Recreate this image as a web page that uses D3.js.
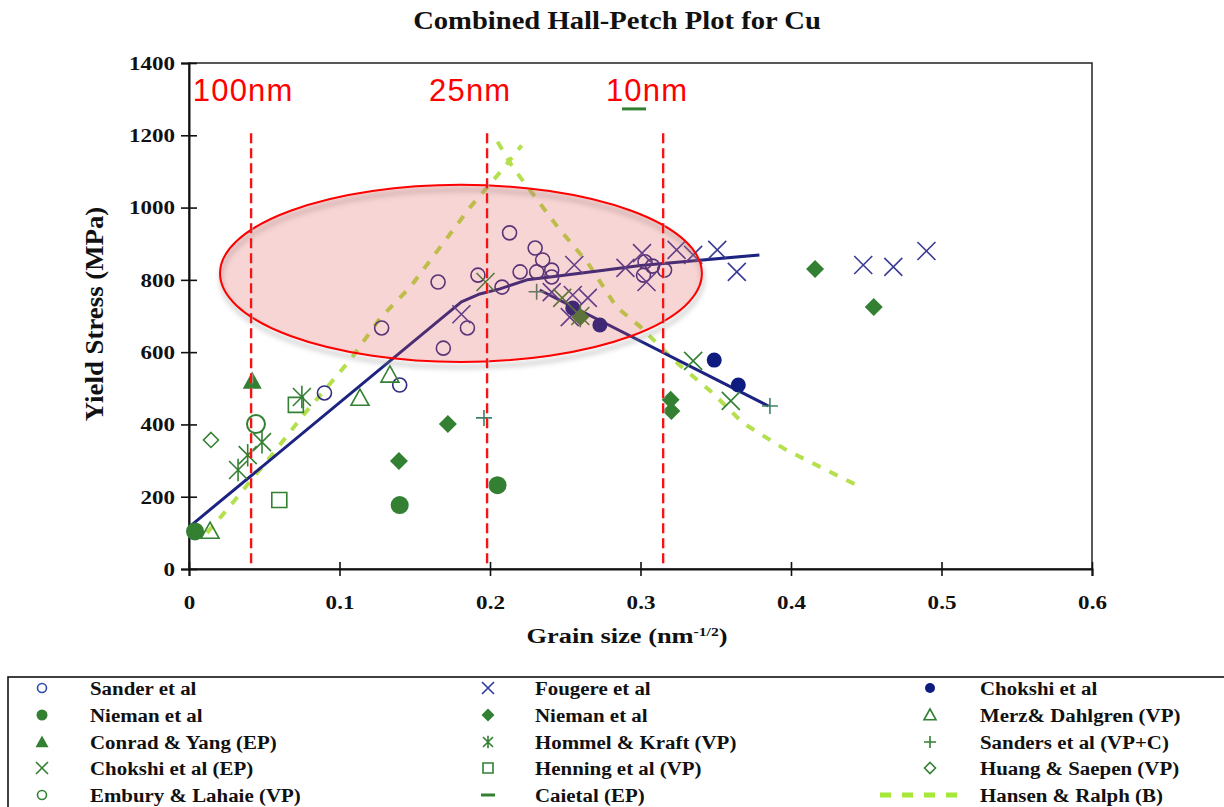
<!DOCTYPE html>
<html><head><meta charset="utf-8">
<script src="https://cdn.jsdelivr.net/npm/d3@7"></script>
<style>body{margin:0;background:#fff}svg{display:block}</style>
</head><body><svg id="c" width="1224" height="807"></svg>
<script>
// ---------- data ----------
const xTicks = [0, 0.1, 0.2, 0.3, 0.4, 0.5, 0.6];
const yTicks = [0, 200, 400, 600, 800, 1000, 1200, 1400];

const sanderEtAl = [[0.090,487],[0.140,509],[0.128,667],[0.169,611],[0.185,667],[0.1655,794],[0.192,813],[0.208,780],[0.213,930],[0.230,888],[0.235,855],[0.220,822],[0.231,822],[0.241,827],[0.241,808],[0.303,850],[0.302,813],[0.316,827],[0.308,838]];
const fougereEtAl = [[0.181,705],[0.241,766],[0.255,758],[0.265,750],[0.253,697],[0.256,841],[0.290,833],[0.301,874],[0.304,794],[0.324,883],[0.335,869],[0.351,883],[0.364,822],[0.448,841],[0.468,836],[0.490,880]];
const chokshiEtAl = [[0.255,722],[0.273,675],[0.349,578],[0.365,509]];
const niemanCircle = [[0.004,104],[0.140,177],[0.205,232]];
const niemanDiamond = [[0.1395,299],[0.172,401],[0.260,697],[0.320,468],[0.3205,437],[0.416,830],[0.455,725]];
const merzDahlgren = [[0.014,105],[0.1136,473],[0.1335,537]];
const conradYang = [[0.042,520]];
const hommelKraft = [[0.0326,274],[0.039,315],[0.0485,351],[0.075,476],[0.260,700]];
const sandersEtAl = [[0.196,418],[0.231,767],[0.386,451]];
const chokshiEP = [[0.248,750],[0.335,576],[0.360,465],[0.197,794]];
const henningEtAl = [[0.060,191],[0.071,454]];
const huangSaepen = [[0.0146,357]];
const emburyLahaie = [[0.0445,401]];
const caiEtAl = [[0.2957,1273]];

const hallPetchFit = [[0,116],[0.181,739],[0.1925,760],[0.2066,775],[0.2246,800],[0.240,808],[0.273,825],[0.300,840],[0.379,869]];
const inverseFit = [[0.233,772],[0.385,451]];
const hansenRising = [[0.012,100],[0.025,163],[0.056,320],[0.076,426],[0.107,578],[0.127,694],[0.147,780],[0.187,1002],[0.208,1104],[0.221,1172]];
const hansenFalling = [[0.205,1182],[0.215,1112],[0.225,1057],[0.245,946],[0.265,847],[0.284,725],[0.300,670],[0.322,578],[0.348,487],[0.368,404],[0.397,329],[0.446,227]];

const grainLines = [0.0412, 0.198, 0.315];
const grainLabels = ["100nm", "25nm", "10nm"];
const grainLabelX = [0.0025, 0.1595, 0.277];
const highlight = {cx: 0.1807, cy: 818, rx: 0.1601, ry: 245};

// ---------- setup ----------
const svg = d3.select("#c");
const x = d3.scaleLinear().domain([0, 0.6]).range([189, 1092]);
const y = d3.scaleLinear().domain([0, 1400]).range([569, 63]);

const NAVY = "#2f2c82", NAVY2 = "#3b3b96", NAVYF = "#0e1c80", GREEN = "#338033", LINE = "#1c2380", LIME = "#b3e04c";
const SERIF = "'Liberation Serif','Times New Roman',serif";

// symbol shapes
const shapes = {
  circle: d3.symbolCircle,
  cross: {draw(c, s){const r=Math.sqrt(s)/2; c.moveTo(-r,-r); c.lineTo(r,r); c.moveTo(-r,r); c.lineTo(r,-r);}},
  plus: {draw(c, s){const r=Math.sqrt(s)/2; c.moveTo(-r,0); c.lineTo(r,0); c.moveTo(0,-r); c.lineTo(0,r);}},
  asterisk: {draw(c, s){const r=Math.sqrt(s)/2; c.moveTo(-r,-r); c.lineTo(r,r); c.moveTo(-r,r); c.lineTo(r,-r); c.moveTo(0,-r*1.25); c.lineTo(0,r*1.25);}},
  diamond: {draw(c, s){const r=Math.sqrt(s)/2; c.moveTo(0,-r); c.lineTo(r,0); c.lineTo(0,r); c.lineTo(-r,0); c.closePath();}},
  triangle: {draw(c, s){const r=Math.sqrt(s)/2; c.moveTo(0,-r); c.lineTo(r,r*0.8); c.lineTo(-r,r*0.8); c.closePath();}},
  square: {draw(c, s){const r=Math.sqrt(s)/2; c.rect(-r,-r,2*r,2*r);}},
  dash: {draw(c, s){const r=Math.sqrt(s)/2; c.moveTo(-r,0); c.lineTo(r,0);}}
};
function symSize(shape, r){ return shape === "circle" ? Math.PI*r*r : (2*r)*(2*r); }

const series = [
  {name:"Sander et al", data:sanderEtAl, shape:"circle", r:7, fill:"none", stroke:NAVY, sw:1.6, lr:4.5, lstroke:"#2a4ab0"},
  {name:"Fougere et al", data:fougereEtAl, shape:"cross", r:9, fill:"none", stroke:NAVY2, sw:1.6, lr:6, lstroke:"#2a3aa8"},
  {name:"Chokshi et al", data:chokshiEtAl, shape:"circle", r:7.5, fill:NAVYF, stroke:"none", sw:0, lr:5},
  {name:"Nieman et al", data:niemanCircle, shape:"circle", r:9, fill:GREEN, stroke:"none", sw:0, lr:5.5},
  {name:"Nieman et al", data:niemanDiamond, shape:"diamond", r:9, fill:GREEN, stroke:"none", sw:0, lr:6.5},
  {name:"Merz& Dahlgren (VP)", data:merzDahlgren, shape:"triangle", r:9, fill:"none", stroke:GREEN, sw:1.6, lr:6},
  {name:"Conrad & Yang (EP)", data:conradYang, shape:"triangle", r:9.5, fill:GREEN, stroke:"none", sw:0, lr:6.5},
  {name:"Hommel & Kraft (VP)", data:hommelKraft, shape:"asterisk", r:9, fill:"none", stroke:GREEN, sw:1.6, lr:5},
  {name:"Sanders et al (VP+C)", data:sandersEtAl, shape:"plus", r:8, fill:"none", stroke:"#3d8266", sw:1.6, lr:6, lstroke:GREEN},
  {name:"Chokshi et al (EP)", data:chokshiEP, shape:"cross", r:9, fill:"none", stroke:GREEN, sw:1.6, lr:6},
  {name:"Henning et al (VP)", data:henningEtAl, shape:"square", r:7.5, fill:"none", stroke:GREEN, sw:1.6, lr:5},
  {name:"Huang & Saepen (VP)", data:huangSaepen, shape:"diamond", r:7.5, fill:"none", stroke:GREEN, sw:1.6, lr:5.5},
  {name:"Embury & Lahaie (VP)", data:emburyLahaie, shape:"circle", r:9, fill:"none", stroke:GREEN, sw:2, lr:4.5},
  {name:"Caietal (EP)", data:caiEtAl, shape:"dash", r:12, fill:"none", stroke:GREEN, sw:3, lr:7}
];

// ---------- title ----------
svg.append("text").attr("transform", "translate(617,29) scale(1.1,1)")
  .attr("text-anchor","middle").attr("font-family",SERIF).attr("font-weight","bold")
  .attr("font-size",26).attr("fill","#111").text("Combined Hall-Petch Plot for Cu");

// ---------- frame & axes ----------
svg.append("rect").attr("x",x(0)).attr("y",y(1400)).attr("width",x(0.6)-x(0)).attr("height",y(0)-y(1400))
  .attr("fill","none").attr("stroke","#222").attr("stroke-width",1.5);

const gy = svg.append("g").attr("transform",`translate(${x(0)},0)`)
  .call(d3.axisLeft(y).tickValues(yTicks).tickSize(8).tickFormat(d3.format("d")));
gy.select(".domain").attr("stroke","#111").attr("stroke-width",2);
gy.selectAll(".tick line").attr("x1",-8).attr("x2",8).attr("stroke","#111").attr("stroke-width",1.6);
gy.selectAll(".tick text").attr("x",0).attr("dy","0.35em")
  .attr("transform","translate(-14,0) scale(1.28,1)")
  .attr("font-family",SERIF).attr("font-weight","bold").attr("font-size",18).attr("fill","#111");

const gx = svg.append("g").attr("transform",`translate(0,${y(0)})`)
  .call(d3.axisBottom(x).tickValues(xTicks).tickSize(7).tickFormat(d => d === 0 ? "0" : d3.format(".1f")(d)));
gx.select(".domain").attr("stroke","#111").attr("stroke-width",2);
gx.selectAll(".tick line").attr("y1",-7).attr("y2",7).attr("stroke","#111").attr("stroke-width",1.6);
gx.selectAll(".tick text").attr("y",0).attr("dy",0)
  .attr("transform","translate(0,40) scale(1.28,1)")
  .attr("font-family",SERIF).attr("font-weight","bold").attr("font-size",18).attr("fill","#111");

// axis titles
svg.append("text").attr("transform","translate(103,314) scale(1.12,1.22) rotate(-90)")
  .attr("text-anchor","middle").attr("font-family",SERIF).attr("font-weight","bold")
  .attr("font-size",22).attr("fill","#111").text("Yield Stress (MPa)");
const xt = svg.append("text").attr("transform","translate(627,643) scale(1.2,1)")
  .attr("text-anchor","middle").attr("font-family",SERIF).attr("font-weight","bold")
  .attr("font-size",22).attr("fill","#111");
xt.append("tspan").text("Grain size (nm");
xt.append("tspan").attr("font-size",13).attr("dy",-7).text("-1/2");
xt.append("tspan").attr("dy",7).text(")");

// ---------- lines ----------
const line = d3.line().x(d => x(d[0])).y(d => y(d[1]));
[hansenRising, hansenFalling].forEach(arr => {
  svg.append("path").attr("d", line(arr)).attr("fill","none").attr("stroke",LIME)
    .attr("stroke-width",4).attr("stroke-dasharray","9,10");
});
svg.append("path").attr("d", line(hallPetchFit)).attr("fill","none").attr("stroke",LINE).attr("stroke-width",3).attr("stroke-linejoin","round");
svg.append("path").attr("d", line(inverseFit)).attr("fill","none").attr("stroke",LINE).attr("stroke-width",3);

// ---------- markers ----------
series.forEach(s => {
  if (s.shape === "dash") return;
  svg.append("g").selectAll("path").data(s.data).join("path")
    .attr("transform", d => `translate(${x(d[0])},${y(d[1])})`)
    .attr("d", d3.symbol().type(shapes[s.shape]).size(symSize(s.shape, s.r)))
    .attr("fill", s.fill).attr("stroke", s.stroke).attr("stroke-width", s.sw);
});

// ---------- highlight ellipse ----------
const defs = svg.append("defs");
defs.append("filter").attr("id","blur").append("feGaussianBlur").attr("stdDeviation",2.5);
const ecx = x(highlight.cx), ecy = y(highlight.cy), erx = x(highlight.cx + highlight.rx) - ecx, ery = y(highlight.cy - highlight.ry) - ecy;
svg.append("ellipse").attr("cx",ecx+1).attr("cy",ecy+5).attr("rx",erx).attr("ry",ery)
  .attr("fill","none").attr("stroke","#999").attr("stroke-width",4).attr("opacity",0.45).attr("filter","url(#blur)");
svg.append("ellipse").attr("cx",ecx).attr("cy",ecy).attr("rx",erx).attr("ry",ery)
  .attr("fill","rgba(225,80,80,0.24)").attr("stroke","#ff0000").attr("stroke-width",2);

// ---------- grain size markers ----------
grainLines.forEach(v => {
  svg.append("line").attr("x1",x(v)+1).attr("x2",x(v)+1).attr("y1",y(1200)-2).attr("y2",y(0)-1)
    .attr("stroke","#bbb").attr("stroke-width",2.5).attr("stroke-dasharray","10,5").attr("opacity",0.6);
  svg.append("line").attr("x1",x(v)).attr("x2",x(v)).attr("y1",y(1200)-2).attr("y2",y(0)-1)
    .attr("stroke","#ff1010").attr("stroke-width",2.2).attr("stroke-dasharray","10,5");
});
grainLabels.forEach((t,i) => {
  svg.append("text").attr("x",x(grainLabelX[i])).attr("y",101)
    .attr("font-family","'Liberation Sans',Arial,sans-serif").attr("font-size",31)
    .attr("letter-spacing",1.2).attr("fill","#ff0000").text(t);
});
// Cai et al marker (on top)
series.filter(s => s.shape === "dash").forEach(s => {
  svg.append("g").selectAll("path").data(s.data).join("path")
    .attr("transform", d => `translate(${x(d[0])},${y(d[1])})`)
    .attr("d", d3.symbol().type(shapes.dash).size(symSize("dash", s.r)))
    .attr("fill","none").attr("stroke",s.stroke).attr("stroke-width",s.sw);
});

// ---------- legend ----------
const legendOrder = [0,1,2, 3,4,5, 6,7,8, 9,10,11, 12,13,-1];
const colMarker = [42, 488, 930], colText = [90, 535, 980];
const rowY = [688, 715, 742, 768, 795];
svg.append("rect").attr("x",8).attr("y",677).attr("width",1240).attr("height",200)
  .attr("fill","none").attr("stroke","#111").attr("stroke-width",1.6);
const lg = svg.append("g");
legendOrder.forEach((si, k) => {
  const col = k % 3, row = Math.floor(k / 3);
  const cy = rowY[row];
  let name;
  if (si === -1) {
    name = "Hansen & Ralph (B)";
    lg.append("line").attr("x1",colMarker[col]-50).attr("x2",colMarker[col]+32).attr("y1",cy).attr("y2",cy)
      .attr("stroke","#a6e83a").attr("stroke-width",5).attr("stroke-dasharray","11,11");
  } else {
    const s = series[si];
    name = s.name;
    lg.append("path").attr("transform",`translate(${colMarker[col]},${cy})`)
      .attr("d", d3.symbol().type(shapes[s.shape]).size(symSize(s.shape, s.lr)))
      .attr("fill", s.fill === "none" ? "none" : s.fill)
      .attr("stroke", s.fill === "none" || s.shape === "dash" ? (s.lstroke || s.stroke) : "none")
      .attr("stroke-width", s.shape === "dash" ? 3 : 1.6);
  }
  lg.append("text").attr("transform",`translate(${colText[col]},${cy}) scale(1.1,1)`).attr("dy","0.35em")
    .attr("font-family",SERIF).attr("font-weight","bold").attr("font-size",19).attr("fill","#111").text(name);
});
</script></body></html>
